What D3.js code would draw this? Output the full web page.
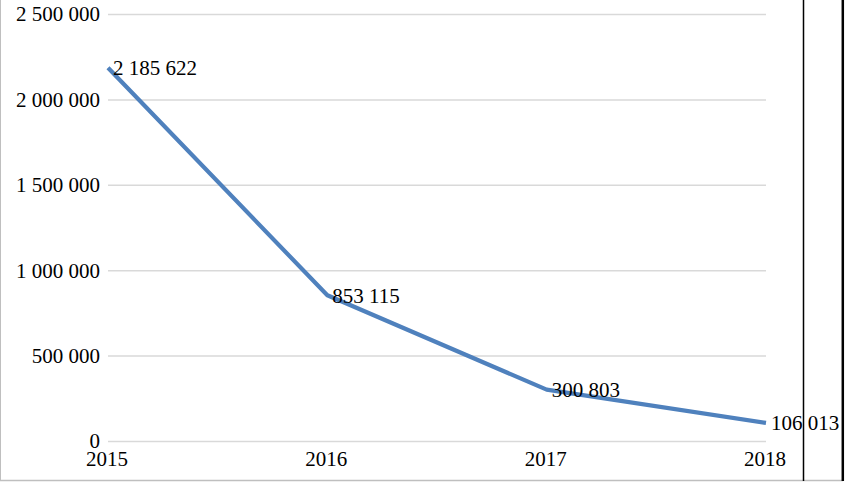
<!DOCTYPE html>
<html><head><meta charset="utf-8">
<script src="https://cdn.jsdelivr.net/npm/d3@7"></script>
<style>
html,body{margin:0;padding:0;background:#fff;}
svg{display:block;}
text{font-family:"Liberation Serif","Times New Roman",serif;fill:#000;}
</style></head>
<body>
<svg id="chart" width="848" height="484"></svg>
<script>
const years = ["2015","2016","2017","2018"];
const values = [2185622, 853115, 300803, 106013];
const valueLabels = ["2 185 622","853 115","300 803","106 013"];
const yTicks = [0, 500000, 1000000, 1500000, 2000000, 2500000];
const yTickLabels = ["0","500 000","1 000 000","1 500 000","2 000 000","2 500 000"];

const svg = d3.select("#chart");
const fs = 21;

// frame lines
svg.append("line").attr("x1",0.5).attr("x2",0.5).attr("y1",0).attr("y2",481).attr("stroke","#bfbfbf").attr("stroke-width",1);
svg.append("line").attr("x1",0).attr("x2",843).attr("y1",480.5).attr("y2",480.5).attr("stroke","#bfbfbf").attr("stroke-width",1.5);
svg.append("line").attr("x1",803.5).attr("x2",803.5).attr("y1",0).attr("y2",481).attr("stroke","#000").attr("stroke-width",1.5);
svg.append("line").attr("x1",842.8).attr("x2",842.8).attr("y1",0).attr("y2",481).attr("stroke","#000").attr("stroke-width",2.5);

const x = d3.scalePoint().domain(years).range([108, 766]).padding(0);
const y = d3.scaleLinear().domain([0, 2500000]).range([441, 14]);

// gridlines
const grid = svg.append("g")
  .attr("transform","translate(108,0)")
  .call(d3.axisLeft(y).tickValues(yTicks).tickSize(-(766-108)).tickFormat(""));
grid.select(".domain").remove();
grid.selectAll(".tick line").attr("stroke","#d9d9d9").attr("stroke-width",1.5);

// y labels
const yAxis = svg.append("g").attr("transform","translate(100,0)")
  .call(d3.axisLeft(y).tickValues(yTicks).tickSize(0).tickPadding(0).tickFormat((d,i)=>yTickLabels[i]));
yAxis.select(".domain").remove();
yAxis.selectAll("text").style("font-family",'"Liberation Serif",serif').style("font-size",fs+"px").attr("fill","#000").attr("dy","0.33em");

// x labels
const xAxis = svg.append("g").attr("transform","translate(-1.5,448)")
  .call(d3.axisBottom(x).tickSize(0).tickPadding(0));
xAxis.select(".domain").remove();
xAxis.selectAll("text").style("font-family",'"Liberation Serif",serif').style("font-size",fs+"px").attr("fill","#000").attr("dy","0.85em");

// line
const data = years.map((yr,i)=>({yr, v: values[i], lab: valueLabels[i]}));
svg.append("path").datum(data)
  .attr("fill","none").attr("stroke","#4f81bd").attr("stroke-width",4.2)
  .attr("stroke-linejoin","round")
  .attr("d", d3.line().x(d=>x(d.yr)).y(d=>y(d.v)));

// data labels
svg.append("g").selectAll("text").data(data).join("text")
  .attr("x", d=>x(d.yr)+5).attr("y", d=>y(d.v)).attr("dy","0.35em")
  .style("font-size",fs+"px").text(d=>d.lab);
</script>
</body></html>
